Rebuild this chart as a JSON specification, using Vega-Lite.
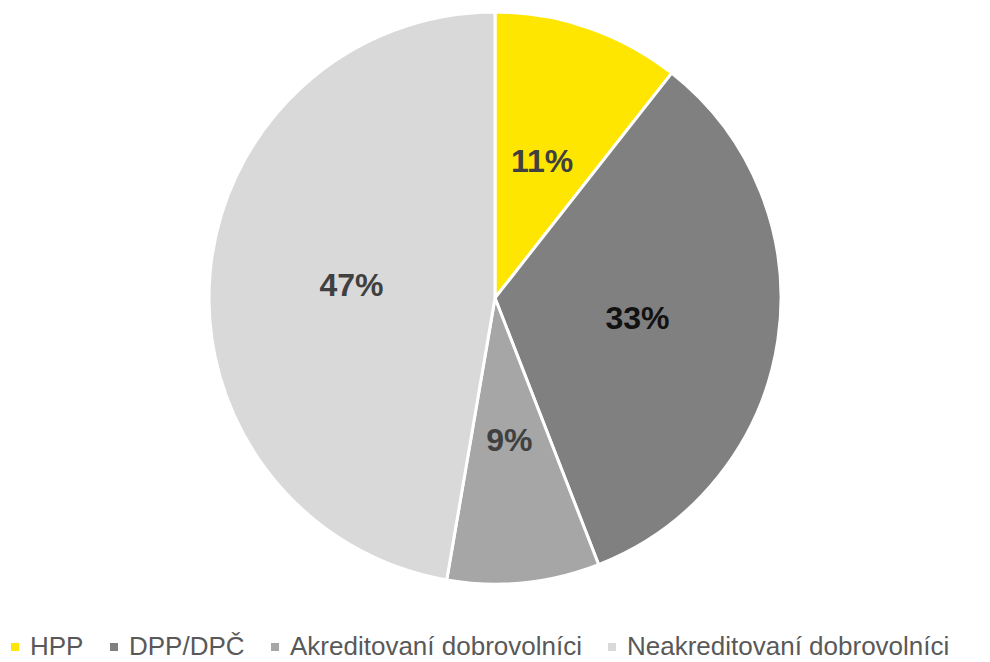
{
  "$schema": "https://vega.github.io/schema/vega-lite/v6.json",
  "width": 990,
  "height": 596,
  "autosize": "none",
  "padding": {"top": 0, "left": 0, "right": 0, "bottom": 66},
  "background": "white",
  "config": {"view": {"stroke": null}, "font": "Liberation Sans"},
  "data": {"values": [
    {"cat": "HPP", "value": 10.6, "label": "11%", "ord": 1},
    {"cat": "DPP/DPČ", "value": 33.5, "label": "33%", "ord": 2},
    {"cat": "Akreditovaní dobrovolníci", "value": 8.6, "label": "9%", "ord": 3},
    {"cat": "Neakreditovaní dobrovolníci", "value": 47.3, "label": "47%", "ord": 4}
  ]},
  "encoding": {
    "theta": {"field": "value", "type": "quantitative", "stack": true},
    "order": {"field": "ord", "type": "quantitative"}
  },
  "layer": [
    {
      "mark": {"type": "arc", "outerRadius": 286, "stroke": "white", "strokeWidth": 3},
      "encoding": {
        "color": {
          "field": "cat", "type": "nominal",
          "sort": ["HPP", "DPP/DPČ", "Akreditovaní dobrovolníci", "Neakreditovaní dobrovolníci"],
          "scale": {"domain": ["HPP", "DPP/DPČ", "Akreditovaní dobrovolníci", "Neakreditovaní dobrovolníci"], "range": ["#FFE600", "#808080", "#A6A6A6", "#D9D9D9"]},
          "legend": {
            "title": null, "orient": "none", "direction": "horizontal",
            "legendX": 2, "legendY": 634,
            "symbolType": "square", "symbolSize": 64, "symbolStrokeWidth": 0,
            "labelFontSize": 26, "labelColor": "#595959", "labelFont": "Liberation Sans",
            "labelOffset": 2, "columnPadding": 17, "labelLimit": 500
          }
        }
      }
    },
    {
      "mark": {"type": "text", "radius": 144, "fontSize": 32, "fontWeight": "bold", "font": "Liberation Sans"},
      "encoding": {
        "text": {"field": "label"},
        "color": {"condition": {"test": "datum.cat === 'DPP/DPČ'", "value": "#111111"}, "value": "#404040"}
      }
    }
  ]
}
